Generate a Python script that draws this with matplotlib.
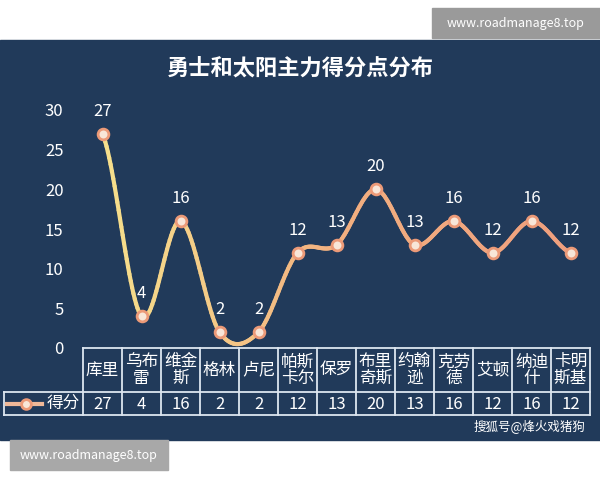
import matplotlib
matplotlib.use("Agg")
import matplotlib.pyplot as plt
import numpy as np
from matplotlib.patches import Rectangle
from matplotlib.collections import LineCollection
from matplotlib.colors import LinearSegmentedColormap

plt.rcParams['font.family'] = ['Noto Sans CJK SC', 'DejaVu Sans']

players = ["库里", "乌布\n雷", "维金\n斯", "格林", "卢尼", "帕斯\n卡尔", "保罗", "布里\n奇斯", "约翰\n逊", "克劳\n德", "艾顿", "纳迪\n什", "卡明\n斯基"]
scores = [27, 4, 16, 2, 2, 12, 13, 20, 13, 16, 12, 16, 12]
yticks = [0, 5, 10, 15, 20, 25, 30]
title = "勇士和太阳主力得分点分布"
series_name = "得分"

W, H = 600, 480
fig = plt.figure(figsize=(6, 4.8), dpi=100)
fig.patch.set_facecolor("white")
navy = "#213a5a"
fig.patches.append(Rectangle((0, 1 - 440 / H), 1, 400 / H, transform=fig.transFigure, color=navy, zorder=-5))

def fx(px): return px / W
def fy(py): return 1 - py / H

x0, x1 = 83, 590
ax = fig.add_axes([fx(x0), fy(348), fx(x1 - x0), 238 / H])
ax.set_zorder(3)
ax.set_facecolor("none")
n = len(scores)
ax.set_xlim(-0.5, n - 0.5)
ax.set_ylim(0, 30)
for s in ax.spines.values():
    s.set_visible(False)
ax.set_xticks([])
ax.set_yticks(yticks)
ax.tick_params(axis='y', length=0, colors="white", labelsize=12, pad=14)

xs = np.arange(n, dtype=float)
ys = np.array(scores, dtype=float)
px, py = [], []
for i in range(n - 1):
    p0 = ys[max(i - 1, 0)]; p1 = ys[i]; p2 = ys[i + 1]; p3 = ys[min(i + 2, n - 1)]
    t = np.linspace(0, 1, 30)
    yy = 0.5 * ((2 * p1) + (-p0 + p2) * t + (2 * p0 - 5 * p1 + 4 * p2 - p3) * t ** 2 + (-p0 + 3 * p1 - 3 * p2 + p3) * t ** 3)
    px.extend(xs[i] + t); py.extend(yy)
px = np.array(px); py = np.array(py)
pts = np.array([px, py]).T.reshape(-1, 1, 2)
segs = np.concatenate([pts[:-1], pts[1:]], axis=1)
cmap = LinearSegmentedColormap.from_list("g", ["#f6e08c", "#f2b080", "#ef9f7e"])
lc = LineCollection(segs, cmap=cmap, linewidth=3, zorder=2, capstyle="round", joinstyle="round")
lc.set_array(np.linspace(0, 1, len(segs)))
ax.add_collection(lc)
ax.scatter(xs, ys, s=60, facecolor="#f8e6d8", edgecolor="#ec9a78", linewidth=2, zorder=3)
for xi, yi in zip(xs, ys):
    ax.annotate(str(int(yi)), (xi, yi), xytext=(0, 10), textcoords="offset points",
                ha="center", va="bottom", color="white", fontsize=12)

fig.text(0.5, fy(68), title, ha="center", va="center", color="white", fontsize=16, fontweight="bold")

lc_col = "#dde6f0"
cw = (x1 - x0) / n
top, mid, bot = 348, 392, 415
lw = 1.3
def hline(y, xa, xb):
    fig.add_artist(plt.Line2D([fx(xa), fx(xb)], [fy(y), fy(y)], color=lc_col, lw=lw))
def vline(x, ya, yb):
    fig.add_artist(plt.Line2D([fx(x), fx(x)], [fy(ya), fy(yb)], color=lc_col, lw=lw))
hline(top, x0, x1); hline(mid, 4, x1); hline(bot, 4, x1)
vline(4, mid, bot)
for i in range(n + 1):
    vline(x0 + i * cw, top, bot)
for i, (p, s) in enumerate(zip(players, scores)):
    cx = x0 + (i + 0.5) * cw
    fig.text(fx(cx), fy((top + mid) / 2), p, ha="center", va="center", color="white", fontsize=12, linespacing=0.95)
    fig.text(fx(cx), fy((mid + bot) / 2 + 1), str(s), ha="center", va="center", color="white", fontsize=12)
fig.add_artist(plt.Line2D([fx(7), fx(42)], [fy(403.5)] * 2, color="#f0b898", lw=3))
fig.add_artist(plt.Line2D([fx(26)], [fy(403.5)], marker="o", ms=7, mfc="#f8e6d8", mec="#ec9a78", mew=2))
fig.text(fx(63), fy(403.5), series_name, ha="center", va="center", color="white", fontsize=12)

fig.text(fx(585), fy(427), "搜狐号@烽火戏猪狗", ha="right", va="center", color="white", fontsize=9)

fig.patches.append(Rectangle((fx(432), fy(38)), fx(168), 30 / H, transform=fig.transFigure, color="#9a9a9a", zorder=5))
fig.text(fx(516), fy(23), "www.roadmanage8.top", ha="center", va="center", color="white", fontsize=9, zorder=6)
fig.patches.append(Rectangle((fx(10), fy(470)), fx(158), 30 / H, transform=fig.transFigure, color="#a8a8a8", zorder=5))
fig.text(fx(89), fy(455), "www.roadmanage8.top", ha="center", va="center", color="white", fontsize=9, zorder=6)

fig.savefig("out.png", dpi=100)
